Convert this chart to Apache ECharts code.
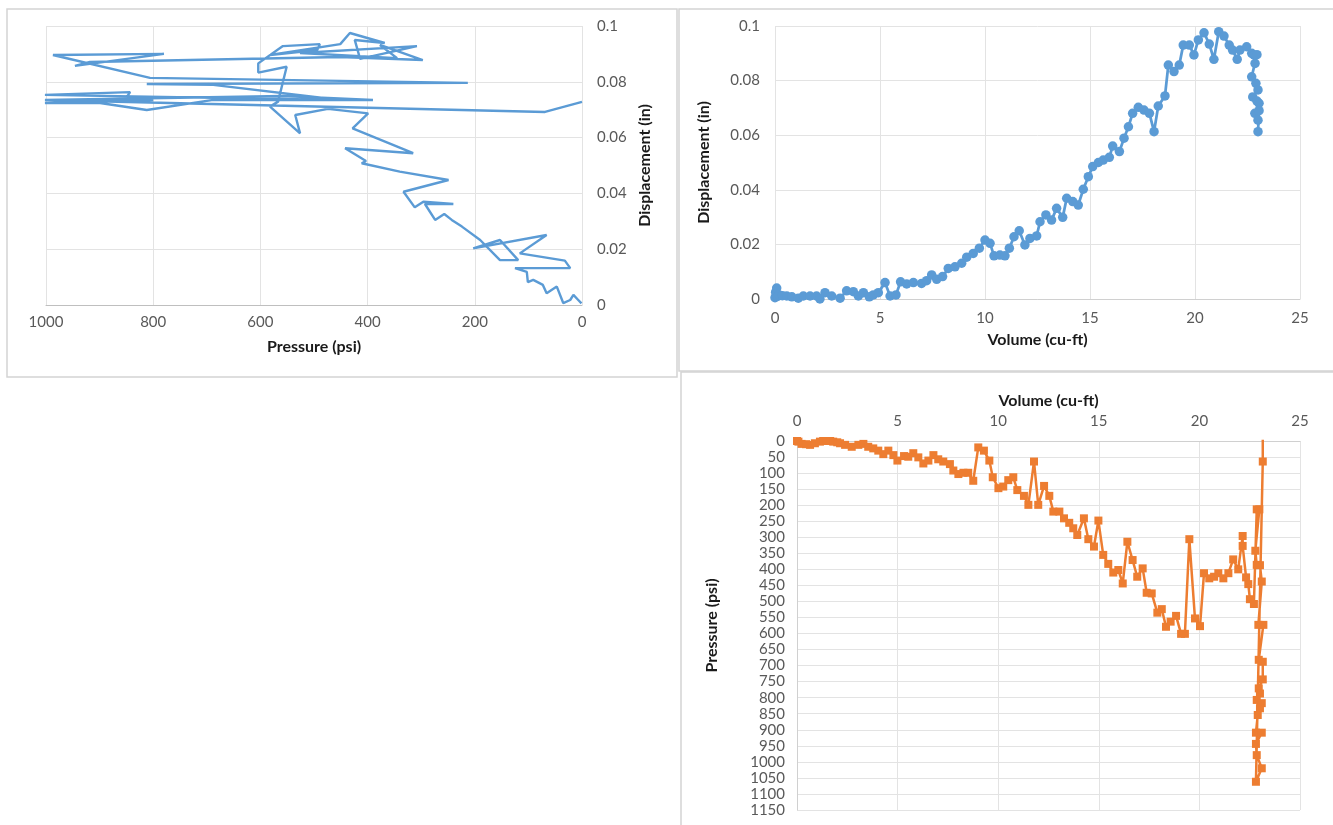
<!DOCTYPE html>
<html>
<head>
<meta charset="utf-8">
<script src="https://cdn.jsdelivr.net/npm/echarts@6/dist/echarts.min.js"></script>
<style>
html,body{margin:0;padding:0;background:#fff;}
#chart{width:1333px;height:825px;}
</style>
</head>
<body>
<div id="chart"></div>
<script>
// Panel 1: Pressure (psi) vs Displacement (in)
const p1Pressure = [1,7,16,22,35,47,66,73,91,101,103,125,22,32,116,66,203,153,119,153,190,224,243,257,274,293,240,296,312,333,249,340,411,403,442,315,428,399,474,535,526,582,567,551,604,604,558,489,494,582,451,433,368,424,414,308,526,345,377,297,451,918,946,780,987,806,213,812,688,451,1002,843,856,800,1002,899,812,688,390,558,1002,69,0];
const p1Displacement = [0.0006,0.0018,0.0036,0.0018,0.0007,0.0066,0.0042,0.0072,0.009,0.0082,0.0119,0.0132,0.0132,0.0159,0.0185,0.0251,0.0203,0.0233,0.0161,0.0161,0.0233,0.0281,0.0305,0.0326,0.0305,0.0362,0.0362,0.037,0.035,0.0406,0.0448,0.0478,0.0508,0.0516,0.0562,0.0544,0.0633,0.0687,0.0703,0.0681,0.0615,0.0711,0.0729,0.0854,0.0833,0.0866,0.0928,0.0935,0.0914,0.0896,0.0935,0.0975,0.0939,0.095,0.0882,0.0928,0.0903,0.0885,0.0932,0.0878,0.0889,0.0871,0.0857,0.09,0.0896,0.0814,0.0796,0.0792,0.0789,0.0735,0.0753,0.0763,0.0728,0.0735,0.0724,0.0724,0.0699,0.0735,0.0735,0.0749,0.0735,0.0692,0.0728];

// Panel 2: Volume (cu-ft) vs Displacement (in)
const p2Volume = [0.0,0.03,0.08,0.12,0.2,0.35,0.56,0.8,1.11,1.35,1.67,1.98,2.14,2.38,2.70,3.10,3.41,3.73,3.97,4.21,4.49,4.68,4.92,5.24,5.48,5.76,5.98,6.27,6.59,6.98,7.22,7.46,7.70,7.98,8.25,8.57,8.89,9.13,9.44,9.73,10.0,10.24,10.43,10.71,10.95,11.16,11.38,11.63,11.90,12.14,12.46,12.62,12.90,13.17,13.41,13.70,13.89,14.18,14.44,14.68,14.92,15.13,15.40,15.63,15.92,16.08,16.40,16.62,16.83,17.03,17.30,17.57,17.83,18.05,18.25,18.57,18.73,19.0,19.25,19.44,19.73,19.95,20.16,20.43,20.68,20.90,21.13,21.38,21.63,21.79,22.01,22.14,22.46,22.70,22.81,22.86,22.95,22.70,22.90,23.0,22.75,23.05,22.85,23.0,22.95,23.05,23.0];
const p2Displacement = [0.0005,0.0025,0.004,0.001,0.0015,0.0012,0.0011,0.0008,0.0003,0.0011,0.0011,0.0011,0.0,0.0023,0.0011,0.0003,0.003,0.0027,0.0011,0.0023,0.0008,0.0015,0.0023,0.006,0.0011,0.0015,0.0063,0.0055,0.006,0.0057,0.0067,0.0088,0.0072,0.0082,0.0112,0.0118,0.0131,0.0153,0.0167,0.0186,0.0216,0.0204,0.0158,0.0161,0.0158,0.0186,0.0228,0.025,0.0198,0.0222,0.0231,0.0283,0.0308,0.0289,0.0332,0.0299,0.0369,0.0357,0.0344,0.0402,0.0448,0.0485,0.05,0.0509,0.0519,0.056,0.054,0.0589,0.0631,0.068,0.0702,0.0692,0.068,0.0613,0.0707,0.0744,0.0857,0.0833,0.0857,0.093,0.093,0.0894,0.0949,0.0975,0.0934,0.0878,0.0979,0.0963,0.093,0.0912,0.0878,0.0912,0.0924,0.09,0.0894,0.0863,0.0895,0.0814,0.079,0.0766,0.074,0.0717,0.068,0.0655,0.0725,0.069,0.0613];

// Panel 3: Volume (cu-ft) vs Pressure (psi)
const p3Volume = [0.0,0.07,0.23,0.45,0.65,0.89,1.14,1.30,1.47,1.65,1.80,2.0,2.14,2.39,2.72,3.05,3.30,3.54,3.79,4.04,4.29,4.54,4.79,4.99,5.32,5.53,5.78,6.03,6.28,6.53,6.78,7.02,7.27,7.60,7.77,8.02,8.27,8.51,8.76,9.01,9.29,9.56,9.73,10.01,10.25,10.50,10.75,10.95,11.28,11.50,11.78,11.99,12.28,12.54,12.74,13.04,13.27,13.53,13.73,13.93,14.26,14.48,14.76,14.98,15.22,15.47,15.72,15.97,16.19,16.42,16.68,16.91,17.18,17.38,17.63,17.91,18.13,18.34,18.57,18.84,19.09,19.28,19.50,19.78,20.03,20.23,20.49,20.73,20.94,21.19,21.44,21.68,21.93,22.15,22.15,22.32,22.43,22.51,22.71,22.85,22.98,22.78,22.85,23.01,23.1,22.93,23.18,22.95,23.15,23.15,22.95,23.01,22.85,23.1,23.01,22.9,22.81,23.1,22.81,22.85,23.1,22.81,23.15,23.15];
const p3Pressure = [0,2,9,10,12,7,2,0,0,0,2,4,7,12,18,12,9,18,23,30,41,30,44,61,47,49,38,51,70,61,44,57,64,72,92,103,99,99,124,20,30,61,113,147,142,122,113,153,171,199,64,199,140,171,220,220,241,255,272,293,241,306,329,248,355,383,410,402,444,314,371,423,397,473,475,535,524,579,563,545,601,601,306,553,577,412,428,423,412,428,412,369,400,296,327,425,446,493,508,213,213,342,386,387,438,573,573,682,688,743,771,787,807,817,833,854,909,909,944,979,1020,1062,64,-40];

const zip = (a, b) => a.map((v, i) => [v, b[i]]);
const FONT = 'Lato';
const tickLabel = { color: '#595959', fontFamily: FONT, fontSize: 15 };
const titleStyle = { color: '#1a1a1a', fontFamily: FONT, fontSize: 16, fontWeight: 'bold' };
const grid = { show: true, lineStyle: { color: '#e3e3e3', width: 1 } };
const fmt = v => String(+v.toFixed(3));
const BLUE = '#5B9BD5', ORANGE = '#ED7D31';

const chart = echarts.init(document.getElementById('chart'), null, { renderer: 'canvas' });
chart.setOption({
  animation: false,
  backgroundColor: '#fff',
  graphic: [
    { type: 'rect', silent: true, z: -10, shape: { x: 7, y: 9, width: 670, height: 368 }, style: { fill: 'none', stroke: '#d4d4d4', lineWidth: 1.5 } },
    { type: 'rect', silent: true, z: -10, shape: { x: 679, y: 9, width: 664, height: 362 }, style: { fill: 'none', stroke: '#d4d4d4', lineWidth: 1.5 } },
    { type: 'rect', silent: true, z: -10, shape: { x: 681, y: 372, width: 664, height: 466 }, style: { fill: 'none', stroke: '#d4d4d4', lineWidth: 1.5 } }
  ],
  grid: [
    { left: 46, top: 26, width: 536, height: 279 },
    { left: 775, top: 26, width: 525, height: 273 },
    { left: 797, top: 441, width: 503, height: 369 }
  ],
  xAxis: [
    { gridIndex: 0, type: 'value', min: 0, max: 1000, interval: 200, inverse: true, position: 'bottom',
      name: 'Pressure (psi)', nameLocation: 'middle', nameGap: 34, nameTextStyle: titleStyle,
      axisLine: { show: true, lineStyle: { color: '#bfbfbf', width: 1 } }, axisTick: { show: false },
      axisLabel: Object.assign({ margin: 10, formatter: fmt }, tickLabel), splitLine: grid },
    { gridIndex: 1, type: 'value', min: 0, max: 25, interval: 5, position: 'bottom',
      name: 'Volume (cu-ft)', nameLocation: 'middle', nameGap: 33, nameTextStyle: titleStyle,
      axisLine: { show: true, lineStyle: { color: '#d0d0d0', width: 1 } }, axisTick: { show: false },
      axisLabel: Object.assign({ margin: 12, formatter: fmt }, tickLabel), splitLine: grid },
    { gridIndex: 2, type: 'value', min: 0, max: 25, interval: 5, position: 'top',
      name: 'Volume (cu-ft)', nameLocation: 'middle', nameGap: 32, nameTextStyle: titleStyle,
      axisLine: { show: true, onZero: false, lineStyle: { color: '#d0d0d0', width: 1 } }, axisTick: { show: false },
      axisLabel: Object.assign({ margin: 12, formatter: fmt }, tickLabel), splitLine: grid }
  ],
  yAxis: [
    { gridIndex: 0, type: 'value', min: 0, max: 0.1, interval: 0.02, position: 'right',
      name: 'Displacement (in)', nameLocation: 'middle', nameRotate: 90, nameGap: 55, nameTextStyle: titleStyle,
      axisLine: { show: false }, axisTick: { show: false },
      axisLabel: Object.assign({ margin: 15, formatter: fmt }, tickLabel), splitLine: grid },
    { gridIndex: 1, type: 'value', min: 0, max: 0.1, interval: 0.02, position: 'left',
      name: 'Displacement (in)', nameLocation: 'middle', nameRotate: 90, nameGap: 63, nameTextStyle: titleStyle,
      axisLine: { show: false }, axisTick: { show: false },
      axisLabel: Object.assign({ margin: 15, formatter: fmt }, tickLabel), splitLine: grid },
    { gridIndex: 2, type: 'value', min: 0, max: 1150, interval: 50, inverse: true, position: 'left',
      name: 'Pressure (psi)', nameLocation: 'middle', nameRotate: 90, nameGap: 77, nameTextStyle: titleStyle,
      axisLine: { show: true, onZero: false, lineStyle: { color: '#d0d0d0', width: 1 } }, axisTick: { show: false },
      axisLabel: Object.assign({ margin: 12, formatter: fmt }, tickLabel), splitLine: grid }
  ],
  series: [
    { type: 'line', xAxisIndex: 0, yAxisIndex: 0, data: zip(p1Pressure, p1Displacement),
      showSymbol: false, symbol: 'none', clip: true,
      lineStyle: { color: BLUE, width: 2.4 }, itemStyle: { color: BLUE } },
    { type: 'line', xAxisIndex: 1, yAxisIndex: 1, data: zip(p2Volume, p2Displacement),
      symbol: 'circle', symbolSize: 9.5, clip: true,
      lineStyle: { color: BLUE, width: 2.75 }, itemStyle: { color: BLUE, borderWidth: 0 } },
    { type: 'line', xAxisIndex: 2, yAxisIndex: 2, data: zip(p3Volume, p3Pressure),
      symbol: 'rect', symbolSize: 8, clip: true,
      lineStyle: { color: ORANGE, width: 2.5 }, itemStyle: { color: ORANGE, borderWidth: 0 } }
  ]
});
</script>
</body>
</html>
